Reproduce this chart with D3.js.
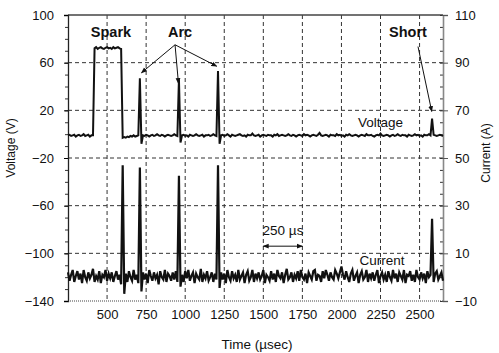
<!DOCTYPE html>
<html>
<head>
<meta charset="utf-8">
<script src="https://cdn.jsdelivr.net/npm/d3@7"></script>
<style>
  body { margin: 0; background: #fff; }
  text { font-family: "Liberation Sans", Arial, sans-serif; fill: #111; }
</style>
</head>
<body>
<div id="chart"></div>
<script>
var width = 499,
    height = 353

// scope samples, one every 10 us starting at 250 us
var sampleStart = 250
var sampleStep = 10

var voltage = [
  -1,-0.5,-1.5,-1,-0.5,-2,-1,-0.5,-1.5,-1,0,-1.5,-1,-0.5,-2,-1,-1,
  72,73,71.5,72.5,73,72,71.5,72.5,73,72,72.5,71.5,73,72,72.5,73,72,71.5,
  -3,
  -2.5,-3,-2,-2.5,-1.5,-2,-1,-2,-1.5,-1,
  47,-8,
  -1,-1.5,-0.5,-1,-2,-1,-0.5,-1.5,-1,0,-1,-1.5,-0.5,-1,-2,-1,-0.5,-1,-1.5,-1,0,-1,-1.5,
  46,-7,
  -1,-0.5,-1.5,-1,-2,-0.5,-1,-1.5,-1,0,-1,-1.5,-1,-0.5,-2,-1,-1,-0.5,-1.5,-1,0,-1,-1.5,
  53,-8,
  -1,-0.5,-1.5,-1,0,-1,-2,-0.5,-1,-1.5,-1,-0.5,0,-1,-1.5,
  -1,-2,-0.5,-1,-1,0.5,-1,-1.5,-1,-0.5,-2,-1,-0.5,-1,-1.5,
  -0.5,-1,-1,-2,-0.5,-1,0,-1.5,-1,-0.5,-1,-1.5,-1,0,-1,
  -1.5,-0.5,-1,-2,-1,-0.5,-1,-1.5,0,-1,-0.5,-1,-2,-1,-0.5,
  -1,-1.5,-0.5,1,-1,-1.5,-1,-0.5,-1,-2,-0.5,-1,-1,-1.5,0,
  -1,-0.5,-1.5,-1,-2,-0.5,-1,0,-1,-1.5,-1,-0.5,-1,-2,-1,
  -0.5,-1,-1.5,0,-1,-1,-0.5,-1.5,-2,-1,-0.5,-1,0.5,-1,-1.5,
  -1,-0.5,-1,-2,-1,-0.5,-1.5,-1,0,-1,-1.5,-0.5,-1,-1,-2,
  -0.5,-1,-1.5,-1,0,-1,-0.5,-1.5,-1,-2,-0.5,-1,-1,0,-1,
  13,
  -0.5,-1,-1.5,-1,-0.5,-1,-1.5
]

var current = [
  2,-1.5,1,3,-2,0.5,2.5,-1,1.5,-2.5,3,0,-1.5,2,-0.5,1,3.5,-2,0.5,-1,2.5,-2.5,1,0,3,-1.5,1.5,-0.5,2,-2,0.5,2.5,-1,1,-3,
  47,-7,
  1.5,-2,2.5,0,-1.5,3,-1,1,-2.5,
  46,-6,
  2,-1,1.5,-2.5,3,0.5,-1.5,2,-0.5,1,-3,2.5,0,-1,3,-2,1.5,0.5,-1.5,2,-1,2.5,-2,
  42.5,-4,
  1,-2,2.5,-0.5,3,-1.5,0.5,2,-2.5,1.5,0,-1,3.5,-2,1,-0.5,2.5,-1.5,0,2,-2,1.5,-1,
  47,-4.5,
  2,-1,1.5,-2.5,3,0,-1.5,2.5,-0.5,1,-2,3,-1,0.5,2,
  -2.5,1,2.5,-1.5,0,3,-2,1.5,-0.5,2,-1,0.5,3,-2.5,1,
  0,-1.5,2.5,-1,1.5,-2,3,0.5,-0.5,2,-2.5,1,3.5,-1,0,
  2,-2,1,-0.5,2.5,-1.5,3,0,-1,1.5,-2.5,2,0.5,-1,2.5,
  3,-1.5,1,0.5,-2,2.5,-0.5,3,1,-1.5,2,0,-1,3,1.5,
  -0.5,2,4.5,1,-1,2.5,0,-2,1.5,3,-1.5,0.5,2,-2.5,1,
  2.5,-1,0,3,-2,1.5,-0.5,2,-1.5,1,3,-2.5,0.5,2,-1,
  1,-2,2.5,0,-1.5,3,-0.5,1.5,-2,2,0.5,-1,3,-2.5,1,
  0.5,2.5,-1.5,1,-2,3,0,-1,2,-0.5,1.5,-2.5,2.5,0,1,
  24.5,
  -2,1.5,2.5,-1,0.5,2,-1.5
]

var timeTicks = [500, 750, 1000, 1250, 1500, 1750, 2000, 2250, 2500]
var voltTicks = [100, 60, 20, -20, -60, -100, -140]
var currTicks = [110, 90, 70, 50, 30, 10, -10]

// arrows: [fromTime, fromVolt, toTime, toVolt]
var arcArrows = [[935, 75, 720, 51.5], [935, 75, 957, 42.5], [935, 75, 1202, 57]]
var shortArrow = [2490, 73.5, 2578, 19]

var svg = d3.select("#chart")
  .append("svg")
    .attr("width", width)
    .attr("height", height)
    .style("background", "#fff")

var x = d3.scaleLinear().domain([250, 2650]).range([68, 443])
var yV = d3.scaleLinear().domain([-140, 100]).range([301, 15])
var yI = d3.scaleLinear().domain([-10, 110]).range([301, 15])

var defs = svg.append("defs")
defs.append("marker")
    .attr("id", "head")
    .attr("viewBox", "0 0 10 10")
    .attr("refX", 9).attr("refY", 5)
    .attr("markerWidth", 6).attr("markerHeight", 6)
    .attr("orient", "auto-start-reverse")
    .attr("markerUnits", "userSpaceOnUse")
  .append("path")
    .attr("d", "M0,1 L10,5 L0,9 z")
    .attr("fill", "#111")

// grid
svg.selectAll("hgrid")
  .data(voltTicks.slice(1, -1))
  .enter()
  .append("line")
    .attr("x1", 68).attr("x2", 443)
    .attr("y1", function(d){ return yV(d) })
    .attr("y2", function(d){ return yV(d) })
    .attr("stroke", "#333")
    .attr("stroke-dasharray", "4,3")
    .attr("stroke-width", 1)

svg.selectAll("vgrid")
  .data(timeTicks)
  .enter()
  .append("line")
    .attr("x1", function(d){ return x(d) })
    .attr("x2", function(d){ return x(d) })
    .attr("y1", 15).attr("y2", 301)
    .attr("stroke", "#333")
    .attr("stroke-dasharray", "4,3")
    .attr("stroke-width", 1)

// frame top and bottom
svg.append("line")
    .attr("x1", 68).attr("x2", 443).attr("y1", 15).attr("y2", 15)
    .attr("stroke", "#444").attr("stroke-width", 1.5)
svg.append("line")
    .attr("x1", 68).attr("x2", 443).attr("y1", 301).attr("y2", 301)
    .attr("stroke", "#444").attr("stroke-width", 1.2)
    .attr("stroke-dasharray", "1,1")

// left axis
var leftMinor = svg.append("g")
    .attr("transform", "translate(68,0)")
    .call(d3.axisLeft(yV).tickValues(d3.range(-140, 101, 10)).tickSize(3).tickFormat(""))
leftMinor.select(".domain").remove()
leftMinor.selectAll("line").attr("stroke", "#333")

var leftAxis = svg.append("g")
    .attr("transform", "translate(68,0)")
    .call(d3.axisLeft(yV).tickValues(voltTicks).tickSize(4).tickPadding(10))
leftAxis.select(".domain").attr("stroke", "#222").attr("stroke-width", 1.3)
leftAxis.selectAll("text").style("font-size", "13px").style("font-family", "Liberation Sans, Arial, sans-serif")

// right axis
var rightMinor = svg.append("g")
    .attr("transform", "translate(443,0)")
    .call(d3.axisRight(yI).tickValues(d3.range(-10, 111, 5)).tickSize(-3).tickFormat(""))
rightMinor.select(".domain").remove()
rightMinor.selectAll("line").attr("stroke", "#333")

var rightAxis = svg.append("g")
    .attr("transform", "translate(443,0)")
    .call(d3.axisRight(yI).tickValues(currTicks).tickSize(5).tickPadding(7))
rightAxis.select(".domain").attr("stroke", "#888").attr("stroke-width", 1.6)
rightAxis.selectAll("line").attr("stroke", "#555")
rightAxis.selectAll("text").style("font-size", "13px").style("font-family", "Liberation Sans, Arial, sans-serif")

// bottom tick labels, no thousands separator
var bottomAxis = svg.append("g")
    .attr("transform", "translate(0,301)")
    .call(d3.axisBottom(x).tickValues(timeTicks).tickSize(0).tickPadding(9).tickFormat(d3.format("d")))
bottomAxis.select(".domain").remove()
bottomAxis.selectAll("text").style("font-size", "13px").style("font-family", "Liberation Sans, Arial, sans-serif")

// traces
var voltLine = d3.line()
  .x(function(d, i){ return x(sampleStart + i * sampleStep) })
  .y(function(d){ return yV(d) })

var currLine = d3.line()
  .x(function(d, i){ return x(sampleStart + i * sampleStep) })
  .y(function(d){ return yI(d) })

svg.append("path")
    .attr("d", voltLine(voltage))
    .attr("fill", "none")
    .attr("stroke", "#111")
    .attr("stroke-width", 2)

svg.append("path")
    .attr("d", currLine(current))
    .attr("fill", "none")
    .attr("stroke", "#111")
    .attr("stroke-width", 2.2)

// axis titles
svg.append("text")
    .attr("transform", "translate(15,148) rotate(-90)")
    .attr("text-anchor", "middle")
    .style("font-size", "12px")
    .text("Voltage (V)")

svg.append("text")
    .attr("transform", "translate(490,153) rotate(-90)")
    .attr("text-anchor", "middle")
    .style("font-size", "12px")
    .text("Current (A)")

svg.append("text")
    .attr("x", 257).attr("y", 349)
    .attr("text-anchor", "middle")
    .style("font-size", "13.5px")
    .text("Time (µsec)")

// annotations
function bold(t, v, label) {
  svg.append("text")
      .attr("x", x(t)).attr("y", yV(v))
      .attr("text-anchor", "middle")
      .style("font-size", "14.5px")
      .style("font-weight", "bold")
      .text(label)
}
bold(525, 81.5, "Spark")
bold(967, 81.5, "Arc")
bold(2426, 81.5, "Short")

svg.selectAll("arcarrows")
  .data(arcArrows.concat([shortArrow]))
  .enter()
  .append("line")
    .attr("x1", function(d){ return x(d[0]) })
    .attr("y1", function(d){ return yV(d[1]) })
    .attr("x2", function(d){ return x(d[2]) })
    .attr("y2", function(d){ return yV(d[3]) })
    .attr("stroke", "#111")
    .attr("stroke-width", 1)
    .attr("marker-end", "url(#head)")

svg.append("text")
    .attr("x", x(2250)).attr("y", yV(6))
    .attr("text-anchor", "middle")
    .style("font-size", "13.5px")
    .text("Voltage")

svg.append("text")
    .attr("x", x(2260)).attr("y", yI(5))
    .attr("text-anchor", "middle")
    .style("font-size", "13.5px")
    .text("Current")

svg.append("text")
    .attr("x", x(1626)).attr("y", yI(17.5))
    .attr("text-anchor", "middle")
    .style("font-size", "13.5px")
    .text("250 µs")

svg.append("line")
    .attr("x1", x(1500)).attr("x2", x(1750))
    .attr("y1", yI(13)).attr("y2", yI(13))
    .attr("stroke", "#111")
    .attr("stroke-width", 1)
    .attr("marker-start", "url(#head)")
    .attr("marker-end", "url(#head)")
</script>
</body>
</html>
